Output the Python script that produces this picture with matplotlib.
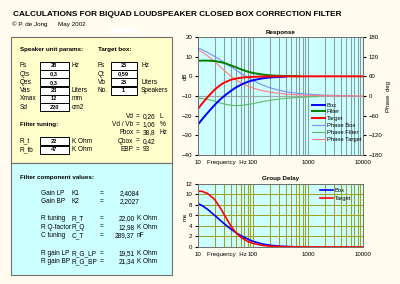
import numpy as np
import matplotlib
matplotlib.use('Agg')
from matplotlib import pyplot as plt
from matplotlib.patches import Rectangle
from matplotlib import transforms

plt.rcParams['font.family'] = ['Liberation Sans', 'DejaVu Sans']

#-----------------------Data-----------------------#

# Response, magnitude [dB]
freq_box = [10, 12, 15, 20, 25, 30, 40, 50, 60, 80, 100, 150, 200, 300, 400]
box_db = [-24.5, -21.7, -18.5, -14.6, -11.9, -10.0, -7.3, -5.5, -4.3, -2.8, -2.0, -1.0, -0.6, -0.3, -0.15]

freq_filter = [10, 12, 15, 20, 25, 30, 40, 50, 60, 80, 100, 150, 200, 300, 500, 700]
filter_db = [7.9, 8.0, 8.0, 7.8, 7.3, 6.8, 5.5, 4.5, 3.6, 2.4, 1.7, 0.9, 0.5, 0.25, 0.1, 0.05]

freq_target = [10, 12, 15, 20, 25, 30, 40, 50, 60, 80, 100, 150, 200, 300, 1000, 10000]
target_db = [-16.6, -13.7, -10.5, -6.8, -4.6, -3.2, -1.7, -1.1, -0.7, -0.4, -0.25, -0.1, -0.06, -0.03, 0.0, 0.0]

# Response, phase [deg]
freq_phase_box = [10, 12, 15, 20, 25, 30, 40, 50, 60, 80, 100, 150, 200, 300, 400, 600, 1000, 2000, 5000, 7000]
phase_box = [146.7, 140.9, 132.7, 120.9, 110.9, 102.3, 88.5, 77.9, 69.3, 56.5, 47.4, 33.4, 25.6, 17.4, 13.1, 8.8, 5.3, 2.6, 1.1, 0.75]

freq_phase_filter = [10, 12, 15, 20, 25, 30, 40, 50, 60, 80, 100, 150, 200, 300, 400, 600, 1000, 1500]
phase_filter = [-5.6, -7.5, -10.5, -16.0, -20.9, -24.5, -28.4, -29.4, -28.8, -26.1, -23.1, -17.2, -13.5, -9.3, -7.0, -4.8, -2.9, -1.9]

freq_phase_target = [10, 12, 15, 20, 25, 30, 40, 50, 60, 80, 100, 150, 200, 300, 400, 600, 1000, 2000, 5000, 10000]
phase_target = [141.1, 133.4, 122.2, 104.9, 90.0, 77.8, 60.1, 48.5, 40.5, 30.4, 24.3, 16.2, 12.1, 8.1, 6.1, 4.0, 2.4, 1.2, 0.5, 0.24]

# Group delay [ms]
freq_gd_box = [10, 12, 15, 20, 25, 30, 40, 50, 60, 80, 100, 150, 200, 300, 400, 550]
gd_box = [8.2, 7.8, 7.1, 6.0, 5.1, 4.4, 3.35, 2.65, 2.15, 1.5, 1.07, 0.56, 0.34, 0.16, 0.09, 0.05]

freq_gd_target = [10, 12, 15, 20, 25, 30, 40, 50, 60, 80, 100, 150, 200, 300, 500, 1000, 10000]
gd_target = [10.6, 10.5, 10.1, 9.0, 7.5, 6.1, 3.9, 2.6, 1.85, 1.06, 0.68, 0.3, 0.17, 0.075, 0.03, 0.01, 0.0]

# Sheet contents
speaker_labels = ['Fs', 'Qts', 'Qes', 'Vas', 'Xmax', 'Sd']
speaker_values = ['28', '0,3', '0,3', '23', '12', '220']
speaker_units = ['Hz', '', '', 'Liters', 'mm', 'cm2']

target_labels = ['Fs', 'Qt', 'Vb', 'No.']
target_values = ['25', '0,59', '25', '1']
target_units = ['Hz', '', 'Liters', 'Speakers']

derived_labels = ['Vd', 'Vd / Vb', 'Fbox', 'Qbox', 'EBP']
derived_values = ['0,26', '1,06', '38,8', '0,42', '93']
derived_units = ['L', '%', 'Hz', '', '']

tuning_labels = ['R_t', 'R_fb']
tuning_values = ['22', '47']
tuning_units = ['K Ohm', 'K Ohm']

comp_names = ['Gain LP', 'Gain BP', 'R tuning', 'R Q-factor', 'C tuning', 'R gain LP', 'R gain BP']
comp_symbols = ['K1', 'K2', 'R_T', 'R_Q', 'C_T', 'R_G_LP', 'R_G_BP']
comp_values = ['2,4084', '2,2027', '22,00', '12,98', '289,37', '19,51', '21,34']
comp_units = ['', '', 'K Ohm', 'K Ohm', 'nF', 'K Ohm', 'K Ohm']

#---------------------------Sheet layout---------------------------#

fs = 4.7        # body text
fs_head = 4.5   # bold headings
fs_cell = 4.1   # bold values in the input cells

fig = plt.figure(figsize=(4.0, 2.84), dpi=100)
fig.patch.set_facecolor('#fffbef')

bg = fig.add_axes([0, 0, 1, 1])
bg.set_xlim(0, 400)
bg.set_ylim(284, 0)
bg.axis('off')

bg.text(13, 14, 'CALCULATIONS FOR BIQUAD LOUDSPEAKER CLOSED BOX CORRECTION FILTER',
        fontsize=5.95, fontweight='bold', va='center', ha='left')
bg.text(12, 24.5, '\u00a9 P. de Jong', fontsize=4.5, va='center')
bg.text(58, 24.5, 'May 2002', fontsize=4.5, va='center')
bg.add_patch(Rectangle((110, 28), 27, 5, facecolor='white', edgecolor='none'))

bg.add_patch(Rectangle((11, 37), 161, 126, facecolor='#ffffcc', edgecolor='#6e6e6e', lw=0.8))
bg.add_patch(Rectangle((11, 163), 161, 112, facecolor='#ccffff', edgecolor='#6e6e6e', lw=0.8))

bg.text(20, 49.7, 'Speaker unit params:', fontsize=fs_head, fontweight='bold', va='center')
bg.text(98, 49.7, 'Target box:', fontsize=fs_head, fontweight='bold', va='center')

row_y = [65.7, 74.0, 82.3, 90.6, 98.9, 107.2]
for i in range(len(speaker_labels)):
    y = row_y[i]
    bg.text(20, y, speaker_labels[i], fontsize=fs, va='center')
    bg.add_patch(Rectangle((39.5, y - 4.1), 29, 8.2, facecolor='white', edgecolor='black', lw=0.7))
    bg.text(54, y, speaker_values[i], fontsize=fs_cell, fontweight='bold', va='center', ha='center')
    bg.text(72, y, speaker_units[i], fontsize=fs, va='center')

for i in range(len(target_labels)):
    y = row_y[i]
    bg.text(98, y, target_labels[i], fontsize=fs, va='center')
    bg.add_patch(Rectangle((110.7, y - 4.1), 26, 8.2, facecolor='white', edgecolor='black', lw=0.7))
    bg.text(123.7, y, target_values[i], fontsize=fs_cell, fontweight='bold', va='center', ha='center')
    bg.text(141, y, target_units[i], fontsize=fs, va='center')

der_y = [116.7, 124.7, 132.9, 141.2, 149.6]
for i in range(len(derived_labels)):
    y = der_y[i]
    bg.text(133.5, y, derived_labels[i], fontsize=fs, va='center', ha='right')
    bg.text(138, y, '=', fontsize=fs, va='center', ha='center')
    bg.text(142.5, y, derived_values[i], fontsize=fs, va='center')
    bg.text(160, y, derived_units[i], fontsize=fs, va='center')

bg.text(20, 124.7, 'Filter tuning:', fontsize=fs_head, fontweight='bold', va='center')
tune_y = [141.2, 149.6]
for i in range(len(tuning_labels)):
    y = tune_y[i]
    bg.text(20, y, tuning_labels[i], fontsize=fs, va='center')
    bg.add_patch(Rectangle((39.5, y - 4.1), 29, 8.2, facecolor='white', edgecolor='black', lw=0.7))
    bg.text(54, y, tuning_values[i], fontsize=fs_cell, fontweight='bold', va='center', ha='center')
    bg.text(72, y, tuning_units[i], fontsize=fs, va='center')

bg.text(20, 177, 'Filter component values:', fontsize=fs_head, fontweight='bold', va='center')
comp_y = [193.3, 201.7, 218.7, 227.2, 235.6, 253.3, 261.8]
for i in range(len(comp_names)):
    y = comp_y[i]
    bg.text(40.7, y, comp_names[i], fontsize=fs, va='center')
    bg.text(71.7, y, comp_symbols[i], fontsize=fs, va='center')
    bg.text(102, y, '=', fontsize=fs, va='center', ha='center')
    if comp_units[i]:
        bg.text(134.7, y, comp_values[i], fontsize=fs, va='center', ha='right')
        bg.text(137, y, comp_units[i], fontsize=fs, va='center')
    else:
        bg.text(120, y, comp_values[i], fontsize=fs, va='center')

#---------------------------Charts---------------------------#

W, H = 400.0, 284.0
plot_bg = '#ccffff'
tick_fs = 4.4


def px_axes(l, t, r, b):
    return [l / W, 1 - b / H, (r - l) / W, (b - t) / H]


def style_log_x(ax):
    ax.set_xscale('log')
    ax.set_xlim(10, 10000)
    ax.set_xticks([10, 100, 1000, 10000])
    ax.set_xticklabels(['10', '100', '1000', '10000'])
    ax.tick_params(axis='x', which='both', length=0, labelsize=tick_fs, pad=3.8)
    ax.annotate('Frequency  Hz', xy=(14.6, 0), xycoords=('data', 'axes fraction'),
                xytext=(0, -3.8), textcoords='offset points',
                fontsize=tick_fs, ha='left', va='top')


def grey_frame(ax):
    for s in ax.spines.values():
        s.set_color('#707070')
        s.set_linewidth(0.7)


def side_label(ax, txt, y):
    tr = transforms.blended_transform_factory(ax.transAxes, ax.transData)
    ax.text(-0.075, y, txt, transform=tr, rotation=90, fontsize=tick_fs,
            ha='center', va='center')


# Response: phase on the back axes, magnitude on the front one
ax2 = fig.add_axes(px_axes(198, 37, 363, 155))
ax2.set_facecolor(plot_bg)
ax1 = ax2.twinx()
ax1.yaxis.tick_left()
ax1.yaxis.set_label_position('left')
ax2.yaxis.tick_right()
ax2.yaxis.set_label_position('right')
ax1.set_zorder(ax2.get_zorder() + 1)
ax1.patch.set_visible(False)

style_log_x(ax2)
ax2.grid(True, axis='x', which='both', color='#8c9c9c', lw=0.75)
ax2.axhline(0, color='#9aa8a8', lw=0.8)

ax2.plot(freq_phase_box, phase_box, color='#7b8cff', lw=0.8, label='Phase Box')
ax2.plot(freq_phase_filter, phase_filter, color='#5fbf5f', lw=0.8, label='Phase Filter')
ax2.plot(freq_phase_target, phase_target, color='#ff7f7f', lw=0.8, label='Phase Target')
ax2.set_ylim(-180, 180)
ax2.set_yticks(np.arange(-180, 181, 60))
ax2.tick_params(axis='y', labelsize=tick_fs, length=2, pad=2)
ax2.set_ylabel('Phase  deg', fontsize=tick_fs, labelpad=3)

ax1.plot(freq_box, box_db, color='#0000ff', lw=1.4, label='Box')
ax1.plot(freq_filter, filter_db, color='#008000', lw=1.4, label='Filter')
ax1.plot(freq_target, target_db, color='#ff0000', lw=1.4, label='Target')
ax1.set_ylim(-40, 20)
ax1.set_yticks(np.arange(-40, 21, 10))
ax1.tick_params(axis='y', labelsize=tick_fs, length=2, pad=2)
side_label(ax1, 'dB', 0)
ax1.set_title('Response', fontsize=4.5, fontweight='bold', pad=2.5)
grey_frame(ax1)
grey_frame(ax2)

h1, l1 = ax1.get_legend_handles_labels()
h2, l2 = ax2.get_legend_handles_labels()
ax1.legend(h1 + h2, l1 + l2, loc='upper left', bbox_to_anchor=(0.69, 0.445),
           frameon=False, fontsize=4.2, handlelength=2.2, handletextpad=0.35,
           labelspacing=0.3, borderpad=0, borderaxespad=0)

# Group delay
ax3 = fig.add_axes(px_axes(198, 183.5, 363, 247))
ax3.set_facecolor(plot_bg)
style_log_x(ax3)
ax3.grid(True, axis='x', which='both', color='#a0a020', lw=0.75)
ax3.grid(True, axis='y', which='major', color='#a0a020', lw=0.75)
ax3.set_axisbelow(True)
ax3.plot(freq_gd_box, gd_box, color='#0000ff', lw=1.2, label='Box')
ax3.plot(freq_gd_target, gd_target, color='#ff0000', lw=1.2, label='Target')
ax3.set_ylim(0, 12)
ax3.set_yticks(np.arange(0, 13, 2))
ax3.tick_params(axis='y', labelsize=tick_fs, length=2, pad=2)
side_label(ax3, 'ms', 5.7)
ax3.set_title('Group Delay', fontsize=4.5, fontweight='bold', pad=2.5)
grey_frame(ax3)
ax3.legend(loc='upper left', bbox_to_anchor=(0.74, 0.93), frameon=False,
           fontsize=4.2, handlelength=2.2, handletextpad=0.35,
           labelspacing=0.55, borderpad=0, borderaxespad=0)

fig.savefig('out.png', dpi=100, facecolor=fig.get_facecolor())
